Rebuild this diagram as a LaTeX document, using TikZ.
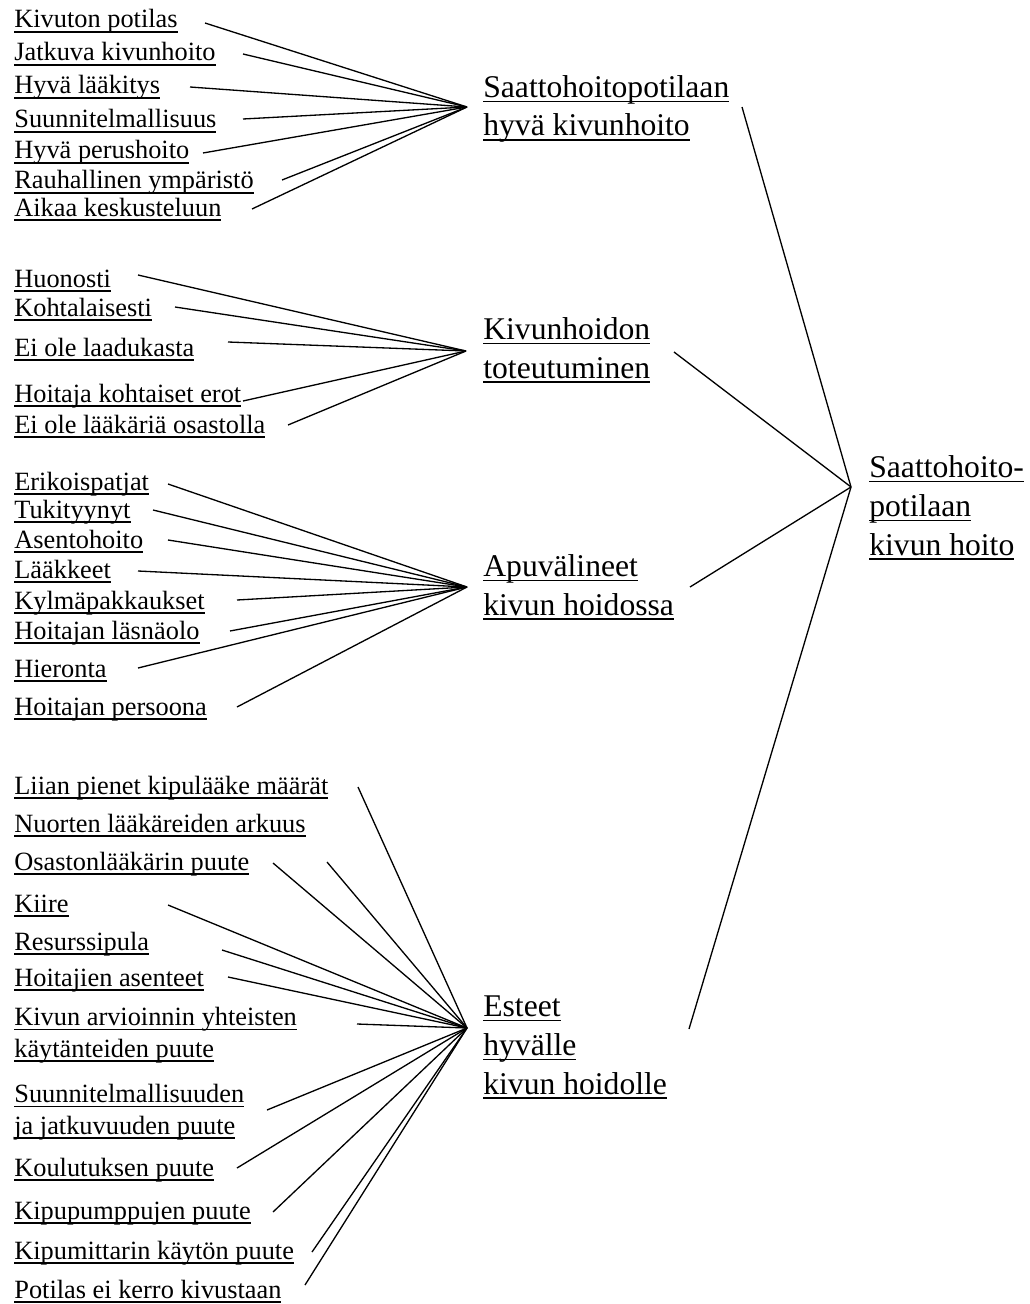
\documentclass[tikz,border=0pt]{standalone}
\usepackage{fontspec}
\setmainfont{Liberation Serif}

% underlined text, line a little below the baseline
\newsavebox{\ulnbox}
\newcommand{\uln}[1]{\sbox{\ulnbox}{#1}\rlap{\rule[-2.7pt]{\wd\ulnbox}{0.9pt}}\usebox{\ulnbox}}

% nodes with several lines are placed by the baseline of their last line
\tikzset{
  leaf/.style={anchor=base west, inner sep=0pt, align=left, font={\fontsize{15}{18}\selectfont}},
  topic/.style={anchor=base west, inner sep=0pt, align=left, font={\fontsize{18}{22}\selectfont}},
  link/.style={line width=0.75pt}
}

\begin{document}
\begin{tikzpicture}[x=0.02cm, y=-0.02cm]
    \useasboundingbox (0,0) rectangle (1029,1304);

    % first group
    \node[leaf] (p1) at (14,28) {\uln{Kivuton potilas}};
    \node[leaf] (p2) at (14,61) {\uln{Jatkuva kivunhoito}};
    \node[leaf] (p3) at (14,94) {\uln{Hyvä lääkitys}};
    \node[leaf] (p4) at (14,128) {\uln{Suunnitelmallisuus}};
    \node[leaf] (p5) at (14,159) {\uln{Hyvä perushoito}};
    \node[leaf] (p6) at (14,189) {\uln{Rauhallinen ympäristö}};
    \node[leaf] (p7) at (14,216) {\uln{Aikaa keskusteluun}};
    \node[topic] (t1) at (483,136) {\uln{Saattohoitopotilaan}\\\uln{hyvä kivunhoito}};

    % second group
    \node[leaf] (q1) at (14,287) {\uln{Huonosti}};
    \node[leaf] (q2) at (14,316) {\uln{Kohtalaisesti}};
    \node[leaf] (q3) at (14,356) {\uln{Ei ole laadukasta}};
    \node[leaf] (q4) at (14,402) {\uln{Hoitaja kohtaiset erot}};
    \node[leaf] (q5) at (14,433) {\uln{Ei ole lääkäriä osastolla}};
    \node[topic] (t2) at (483,378) {\uln{Kivunhoidon}\\\uln{toteutuminen}};

    % third group
    \node[leaf] (r1) at (14,490) {\uln{Erikoispatjat}};
    \node[leaf] (r2) at (14,518) {\uln{Tukityynyt}};
    \node[leaf] (r3) at (14,548) {\uln{Asentohoito}};
    \node[leaf] (r4) at (14,578) {\uln{Lääkkeet}};
    \node[leaf] (r5) at (14,609) {\uln{Kylmäpakkaukset}};
    \node[leaf] (r6) at (14,639) {\uln{Hoitajan läsnäolo}};
    \node[leaf] (r7) at (14,677) {\uln{Hieronta}};
    \node[leaf] (r8) at (14,715) {\uln{Hoitajan persoona}};
    \node[topic] (t3) at (483,615) {\uln{Apuvälineet}\\\uln{kivun hoidossa}};

    % fourth group
    \node[leaf] (s1) at (14,794) {\uln{Liian pienet kipulääke määrät}};
    \node[leaf] (s2) at (14,832) {\uln{Nuorten lääkäreiden arkuus}};
    \node[leaf] (s3) at (14,870) {\uln{Osastonlääkärin puute}};
    \node[leaf] (s4) at (14,912) {\uln{Kiire}};
    \node[leaf] (s5) at (14,950) {\uln{Resurssipula}};
    \node[leaf] (s6) at (14,986) {\uln{Hoitajien asenteet}};
    \node[leaf] (s7) at (14,1057) {\uln{Kivun arvioinnin yhteisten}\\\uln{käytänteiden puute}};
    \node[leaf] (s8) at (14,1134) {\uln{Suunnitelmallisuuden}\\\uln{ja jatkuvuuden puute}};
    \node[leaf] (s9) at (14,1176) {\uln{Koulutuksen puute}};
    \node[leaf] (s10) at (14,1219) {\uln{Kipupumppujen puute}};
    \node[leaf] (s11) at (14,1259) {\uln{Kipumittarin käytön puute}};
    \node[leaf] (s12) at (14,1298) {\uln{Potilas ei kerro kivustaan}};
    \node[topic] (t4) at (483,1094) {\uln{Esteet}\\\uln{hyvälle}\\\uln{kivun hoidolle}};

    % main topic
    \node[topic] (main) at (869,555) {\uln{Saattohoito-}\\\uln{potilaan}\\\uln{kivun hoito}};

    % meeting points
    \coordinate (h1) at (467,107);
    \coordinate (h2) at (466,351);
    \coordinate (h3) at (467,587);
    \coordinate (h4) at (467,1028);
    \coordinate (hm) at (851,487);

    % line ends next to the texts
    \coordinate (p1e) at (205,23);
    \coordinate (p2e) at (243,54);
    \coordinate (p3e) at (190,87);
    \coordinate (p4e) at (243,119);
    \coordinate (p5e) at (203,153);
    \coordinate (p6e) at (282,180);
    \coordinate (p7e) at (252,209);

    \coordinate (q1e) at (138,275);
    \coordinate (q2e) at (175,307);
    \coordinate (q3e) at (228,342);
    \coordinate (q4e) at (243,401);
    \coordinate (q5e) at (288,425);

    \coordinate (r1e) at (168,484);
    \coordinate (r2e) at (153,510);
    \coordinate (r3e) at (168,540);
    \coordinate (r4e) at (138,571);
    \coordinate (r5e) at (237,600);
    \coordinate (r6e) at (230,631);
    \coordinate (r7e) at (138,668);
    \coordinate (r8e) at (237,707);

    \coordinate (s1e) at (358,787);
    \coordinate (s2e) at (327,862);
    \coordinate (s3e) at (273,863);
    \coordinate (s4e) at (168,905);
    \coordinate (s5e) at (222,950);
    \coordinate (s6e) at (228,977);
    \coordinate (s7e) at (357,1024);
    \coordinate (s8e) at (267,1110);
    \coordinate (s9e) at (237,1168);
    \coordinate (s10e) at (273,1212);
    \coordinate (s11e) at (312,1252);
    \coordinate (s12e) at (305,1285);

    \coordinate (t1e) at (742,107);
    \coordinate (t2e) at (674,352);
    \coordinate (t3e) at (690,587);
    \coordinate (t4e) at (689,1029);

    \foreach \i in {1,...,7} \draw[link] (p\i e) -- (h1);
    \foreach \i in {1,...,5} \draw[link] (q\i e) -- (h2);
    \foreach \i in {1,...,8} \draw[link] (r\i e) -- (h3);
    \foreach \i in {1,...,12} \draw[link] (s\i e) -- (h4);
    \foreach \i in {1,...,4} \draw[link] (t\i e) -- (hm);
\end{tikzpicture}
\end{document}
